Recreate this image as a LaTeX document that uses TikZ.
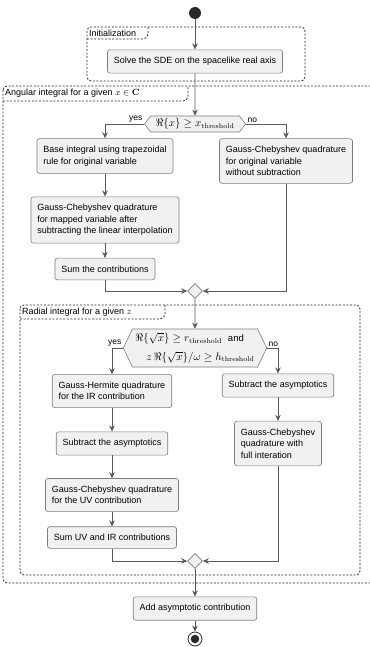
\documentclass[tikz,border=0pt]{standalone}
\usepackage[no-math]{fontspec}
\setmainfont{Liberation Sans}
\usepackage{amsmath}
\usepackage{tikz}
\usetikzlibrary{shapes.geometric, shapes.symbols, arrows.meta, positioning, calc}
\definecolor{mydark}{RGB}{40,40,40}
\definecolor{myline}{RGB}{90,90,90}
\definecolor{mygray}{RGB}{125,125,125}
\definecolor{myfill}{RGB}{241,241,241}
\tikzset{
  act/.style={rectangle, draw=mygray, fill=myfill, align=left,
    inner xsep=6.5pt, inner ysep=7.5pt, rounded corners=2.5pt, line width=0.6pt,
    font=\fontsize{9}{11.5}\selectfont},
  arrow/.style={-{Stealth[length=6pt, width=5.5pt]}, line width=0.6pt, color=myline},
  line/.style={line width=0.6pt, color=myline},
  part/.style={dash pattern=on 2pt off 1.6pt, line width=0.8pt, color=mydark,
    rounded corners=4pt}
}
\begin{document}
\begin{tikzpicture}[x=1pt, y=-1pt,
  cond/.style={signal, signal to=west and east, draw=mygray, fill=myfill,
    line width=0.6pt, align=left, inner xsep=5pt, inner ysep=1pt,
    font=\fontsize{10.5}{12}\selectfont},
  merge/.style={diamond, draw=mygray, fill=myfill, minimum size=15pt,
    inner sep=0pt, line width=0.6pt},
  tab/.style={anchor=west, inner sep=1pt, font=\fontsize{9}{11}\selectfont},
  lbl/.style={inner sep=1.5pt, font=\fontsize{8.5}{10}\selectfont}]
  \useasboundingbox (0,0) rectangle (369,647);

  % Partitions
  \draw[part] (87,27) rectangle (305,81);
  \draw[part, rounded corners=2pt] (87,39) -- (145,39) -- (148,36) -- (148,27);
  \node[tab] (tinit) at (88,33) {Initialization};

  \draw[part] (3,86) rectangle (375,583);
  \draw[part, rounded corners=2pt] (3,101) -- (185,101) -- (188,98) -- (188,86);
  \node[tab] (tang) at (4,93.5) {Angular integral for a given $x \in \mathbf{C}$};

  \draw[part] (20,305) rectangle (360,575);
  \draw[part, rounded corners=2pt] (20,319) -- (162,319) -- (165,316) -- (165,305);
  \node[tab] (trad) at (21,312) {Radial integral for a given $z$};

  % Start
  \node[circle, fill=mydark, minimum size=12pt, inner sep=0pt] (start) at (195,13) {};

  % Initialization
  \node[act] (solve) at (195,61.5) {Solve the SDE on the spacelike real axis};
  \draw[arrow] (start) -- (solve);

  % Angular integral
  \node[cond, signal pointer angle=106, minimum height=16pt, inner xsep=5pt] (dec1) at (195,124)
    {$\Re\{x\} \geq x_{\mathrm{threshold}}$};
  \draw[arrow] (solve) -- (dec1);
  \node[lbl, anchor=south east] (yes1) at (dec1.west) {yes};
  \node[lbl, anchor=south west] (no1) at (dec1.east) {no};

  \node[act] (base) at (105,156) {Base integral using trapezoidal\\rule for original variable};
  \node[act] (gcorig) at (286,161) {Gauss-Chebyshev quadrature\\for original variable\\without subtraction};
  \draw[arrow] (dec1.west) -| (base.north);
  \draw[arrow] (dec1.east) -| (gcorig.north);

  \node[act] (gcmap) at (105,220) {Gauss-Chebyshev quadrature\\for mapped variable after\\subtracting the linear interpolation};
  \node[act] (sum1) at (105,269) {Sum the contributions};
  \draw[arrow] (base) -- (gcmap);
  \draw[arrow] (gcmap) -- (sum1);

  \node[merge] (merge1) at (195,291) {};
  \draw[arrow] (sum1.south) |- (merge1.west);
  \draw[arrow] (gcorig.south) |- (merge1.east);

  % Radial integral
  \node[cond, signal pointer angle=129, minimum height=38pt, inner ysep=0pt, inner xsep=3pt,
    font=\fontsize{10.5}{18.5}\selectfont] (dec2) at (195,348)
    {$\Re\{\sqrt{x}\} \geq r_{\mathrm{threshold}}$\ \ {\fontsize{9.5}{12}\selectfont and}\\
     \hspace*{11pt}$z\,\Re\{\sqrt{x}\}/\omega \geq h_{\mathrm{threshold}}$};
  \draw[arrow] (merge1) -- (dec2);
  \node[lbl, anchor=south east] (yes2) at (dec2.west) {yes};
  \node[lbl, anchor=south west] (no2) at (dec2.east) {no};

  \node[act] (gh) at (112,391) {Gauss-Hermite quadrature\\for the IR contribution};
  \node[act] (subR) at (278,385.5) {Subtract the asymptotics};
  \draw[arrow] (dec2.west) -| (gh.north);
  \draw[arrow] (dec2.east) -| (subR.north);

  \node[act] (subL) at (112,443.5) {Subtract the asymptotics};
  \node[act] (gcuv) at (112,495) {Gauss-Chebyshev quadrature\\for the UV contribution};
  \node[act] (sumuv) at (112,537.5) {Sum UV and IR contributions};
  \draw[arrow] (gh) -- (subL);
  \draw[arrow] (subL) -- (gcuv);
  \draw[arrow] (gcuv) -- (sumuv);

  \node[act] (gcfull) at (278,443.5) {Gauss-Chebyshev\\quadrature with\\full interation};
  \draw[arrow] (subR) -- (gcfull);

  \node[merge] (merge2) at (195,561) {};
  \draw[arrow] (sumuv.south) |- (merge2.west);
  \draw[arrow] (gcfull.south) |- (merge2.east);

  % Output
  \node[act] (addasym) at (195,608.5) {Add asymptotic contribution};
  \draw[arrow] (merge2) -- (addasym);

  % End
  \node[circle, draw=mydark, line width=0.8pt, minimum size=14pt, inner sep=0pt] (end) at (195,639) {};
  \node[circle, fill=mydark, minimum size=8.5pt, inner sep=0pt] (endin) at (end) {};
  \draw[arrow] (addasym) -- (end);
\end{tikzpicture}
\end{document}
